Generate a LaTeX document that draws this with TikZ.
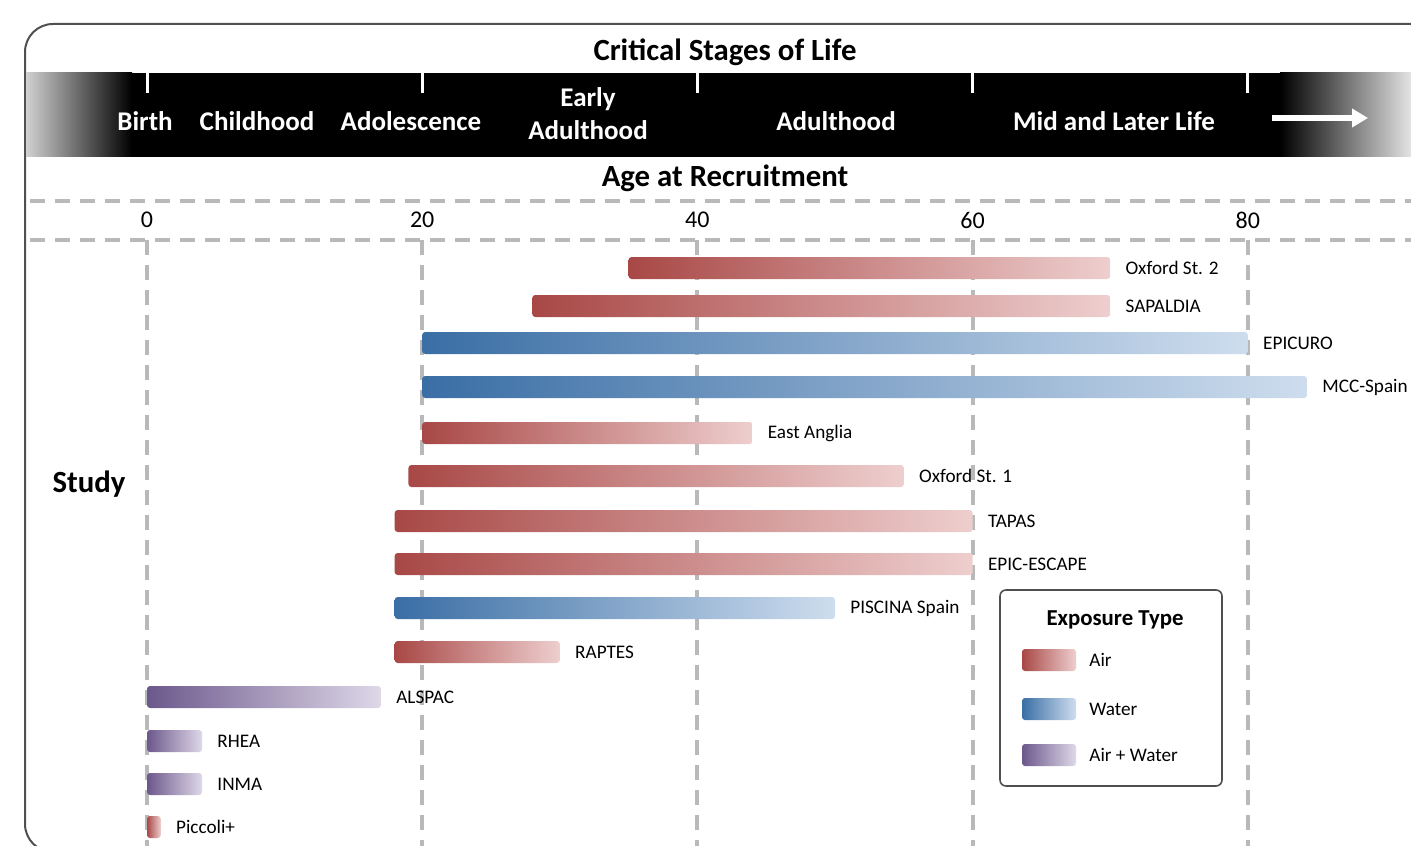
\documentclass[tikz,border=0pt]{standalone}
\usepackage{fontspec}
\setmainfont{Carlito}
\usetikzlibrary{calc,arrows.meta,positioning}
\definecolor{myred}{RGB}{168,72,70}
\definecolor{myredlight}{RGB}{238,206,206}
\definecolor{myblue}{RGB}{58,110,165}
\definecolor{mybluelight}{RGB}{206,221,238}
\definecolor{mypurple}{RGB}{108,88,140}
\definecolor{mypurplelight}{RGB}{222,216,232}
\definecolor{mygrid}{RGB}{185,185,185}
\definecolor{myframe}{RGB}{80,80,80}

\begin{document}
\begin{tikzpicture}[
  x=0.5pt,
  y=-0.5pt,
  airbar/.style={left color=myred, right color=myredlight},
  waterbar/.style={left color=myblue, right color=mybluelight},
  bothbar/.style={left color=mypurple, right color=mypurplelight},
  barlabel/.style={
    anchor=west,
    inner sep=0pt,
    font=\fontsize{9.6}{11}\selectfont
    },
  stagelabel/.style={
    text=white,
    align=center,
    font=\bfseries\fontsize{13.5}{16.5}\selectfont
    },
  heading/.style={font=\bfseries\fontsize{15.4}{17}\selectfont},
  gridline/.style={
    draw=mygrid,
    line width=2pt,
    dash pattern=on 7.5pt off 5pt
  }
]
\useasboundingbox (0,0) rectangle (1411,845);
\clip (0,0) rectangle (1411,845);

\draw[myframe, line width=1pt, rounded corners=14pt] (25,24) rectangle (1450,852);

\node[heading] (stages) at (725,52) {Critical Stages of Life};

% black band with faded ends
\shade[left color=black!18, right color=black] (26,73) rectangle (132,157);
\fill[black] (131,73) rectangle (1281,157);
\shade[left color=black, right color=black!10] (1280,73) rectangle (1412,157);
\foreach \a in {0,20,...,80}
  \draw[white, line width=1.5pt] ({147+13.76*\a},73) -- ++(0,20);

\node[stagelabel] (birth) at (145,121) {Birth};
\node[stagelabel] (childhood) at (257,121) {Childhood};
\node[stagelabel] (adolescence) at (411,121) {Adolescence};
\node[stagelabel] (earlyadult) at (588,114) {Early\\Adulthood};
\node[stagelabel] (adulthood) at (836,121) {Adulthood};
\node[stagelabel] (midlife) at (1114,121) {Mid and Later Life};
\coordinate (arrowstart) at (1272,118);
\coordinate (arrowend) at (1368,118);
\draw[white, line width=3pt, -{Triangle[length=8pt,width=9pt]}] (arrowstart) -- (arrowend);

\node[heading] (agehead) at (725,178) {Age at Recruitment};

% age axis
\draw[gridline] (30,201) -- (1412,201);
\draw[gridline] (30,240) -- (1412,240);
\foreach \a in {0,20,...,80}
{
  \node[font=\fontsize{12}{14}\selectfont] (tick\a) at ({147+13.76*\a},220) {\a};
  \draw[gridline] ({147+13.76*\a},240) -- ({147+13.76*\a},846);
}

\node[heading] (study) at (89,484) {Study};

% one bar per study: start age / end age / row / exposure
\foreach \lo/\hi/\y/\kind/\id/\txt in {
  35/70/268/airbar/oxfordtwo/Oxford St. 2,
  28/70/306/airbar/sapaldia/SAPALDIA,
  20/80/343/waterbar/epicuro/EPICURO,
  20/84.3/387/waterbar/mccspain/MCC-Spain,
  20/44/433/airbar/eastanglia/East Anglia,
  19/55/476/airbar/oxfordone/Oxford St. 1,
  18/60/521/airbar/tapas/TAPAS,
  18/60/564/airbar/epicescape/EPIC-ESCAPE,
  18/50/608/waterbar/piscina/PISCINA Spain,
  18/30/652/airbar/raptes/RAPTES,
  0/17/697/bothbar/alspac/ALSPAC,
  0/4/741/bothbar/rhea/RHEA,
  0/4/784/bothbar/inma/INMA,
  0/1/827/airbar/piccoli/Piccoli+}
{
  \shade[\kind, rounded corners=1.5pt] ({147+13.76*\lo},{\y-11}) rectangle ({147+13.76*\hi},{\y+11});
  \node[barlabel] (\id) at ({147+13.76*\hi+15},\y) {\txt};
}

% legend
\node[draw=myframe, fill=white, line width=0.8pt, rounded corners=3pt,
  minimum width=111pt, minimum height=98pt] (legend) at (1111,688) {};
\node[font=\bfseries\fontsize{11.4}{13}\selectfont] (legendtitle) at (1115,620) {Exposure Type};
\foreach \kind/\y/\txt [count=\i] in {airbar/660/Air, waterbar/709/Water, bothbar/755/Air + Water}
{
  \shade[\kind, rounded corners=1.5pt] (1022,{\y-11}) rectangle (1076,{\y+11});
  \node[barlabel] (key\i) at (1089,\y) {\txt};
}

\end{tikzpicture}
\end{document}
